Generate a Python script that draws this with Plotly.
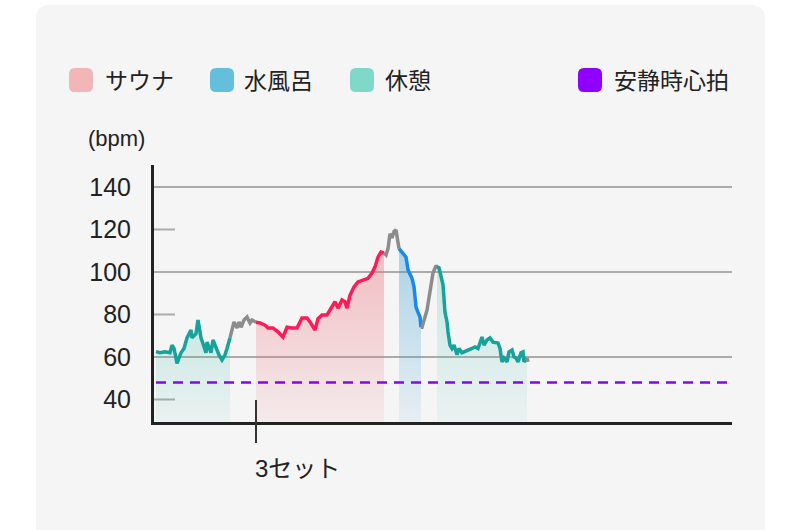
import plotly.graph_objects as go

# ---- data (time index, heart rate in bpm) ----
time = [0, 4, 9, 14, 16, 18, 21, 25, 28, 31, 35, 36, 40, 42, 45, 48, 50, 51, 55, 57, 60, 63, 66, 69, 71, 74,
        76, 78, 81, 83, 85, 88, 91, 94, 96, 100,
        104, 109, 112, 117, 122, 127, 131, 136, 141, 146, 151, 154, 159, 162, 166, 171, 176, 179, 182, 186,
        189, 191, 194, 198, 202, 207, 212, 216, 219, 222, 225, 228,
        230, 232, 234, 236, 238, 240, 242, 243,
        246, 250, 252, 256, 258, 260, 262, 264, 265,
        266, 271, 274, 277, 280, 281,
        283, 286, 287, 289, 291, 292, 294, 296, 298, 301, 303, 306, 309, 312, 316, 319, 322, 326, 328, 331,
        334, 337, 340, 342, 344, 346, 348, 351, 353, 356, 358, 360, 362, 365, 367, 368, 371, 372]
hr = [62.5, 62, 62.5, 62, 65.6, 64, 57, 62, 64, 69, 72.7, 69, 71, 77.4, 69, 64, 62, 67, 62, 68, 64, 61, 58.6, 61, 64, 69,
      73.6, 76.5, 73.6, 76.5, 74, 77.4, 78.8, 76, 77.4, 76.3,
      76, 75, 73.6, 73.6, 71.8, 69.4, 74, 73.6, 73.6, 78.4, 78.4, 76.5, 72.7, 78, 79.8, 79.8, 83.5, 86, 83, 86.8,
      86, 83, 89, 93, 95.3, 96.2, 97, 99.5, 102.4, 107, 109.4, 109,
      108, 111, 118, 116, 119, 119.8, 113.6, 111,
      109, 107, 101, 97, 93, 83.5, 81, 78.8, 74,
      74, 82, 90, 99.5, 103, 102.4,
      102, 96, 94, 81, 76.5, 71.8, 65.6, 64, 65.6, 61, 64, 62, 62.5, 63.3, 64, 64.7, 64, 69.4, 65.6, 68,
      69, 67, 67, 66.6, 64, 57.7, 59.5, 57.7, 62.4, 63.3, 60, 59.5, 57.7, 62, 62.4, 57.7, 59.5, 57.7]

# phases: kind, start, end (time index)
phase_kind = ["rest", "move", "sauna", "move", "water", "move", "rest", "move"]
phase_start = [0, 74, 100, 228, 243, 265, 281, 371]
phase_end = [74, 100, 228, 243, 265, 281, 371, 372]

resting_hr = 48
set_label = "3セット"
set_time = 100

legend_names = ["サウナ", "水風呂", "休憩", "安静時心拍"]
legend_colors = ["#f2b5b8", "#64bfdc", "#80d8c8", "#8f00ff"]

y_ticks = [40, 60, 80, 100, 120, 140]
grid_full = [60, 100, 140]
grid_short = [40, 80, 120]

line_colors = {"rest": "#17a29b", "move": "#8c8c8c", "sauna": "#ff1a58", "water": "#1b88ee"}
fill_rgb = {"rest": (60, 190, 170, 0.24, 0.06), "sauna": (236, 110, 120, 0.42, 0.08),
            "water": (60, 160, 210, 0.4, 0.08)}

FONT = "Liberation Sans, Noto Sans CJK JP, sans-serif"
YMIN, YMAX = 29.4, 150.35
XMIN, XMAX = -2, 576

fig = go.Figure()

for kind, s, e in zip(phase_kind, phase_start, phase_end):
    xs = [t for t in time if s <= t <= e]
    ys = [h for t, h in zip(time, hr) if s <= t <= e]
    kw = {}
    if kind in fill_rgb:
        r, g, b, a1, a0 = fill_rgb[kind]
        kw = dict(fill="tozeroy",
                  fillgradient=dict(type="vertical",
                                    colorscale=[[0, f"rgba({r},{g},{b},{a0})"], [1, f"rgba({r},{g},{b},{a1})"]],
                                    start=YMIN, stop=max(ys)))
    fig.add_trace(go.Scatter(x=xs, y=ys, mode="lines",
                             line=dict(color=line_colors[kind], width=3.5),
                             showlegend=False, hoverinfo="skip", **kw))

fig.add_trace(go.Scatter(x=[0, XMAX], y=[resting_hr, resting_hr], mode="lines",
                         line=dict(color="#8a00ff", width=2.5, dash="10px,7px"),
                         showlegend=False, hoverinfo="skip"))

W, H = 800, 530
ML, MR, MT, MB = 154, 68, 165, 108
PW, PH = W - ML - MR, H - MT - MB


def px(x):
    return (x - ML) / PW


def py(y):
    return (H - MB - y) / PH


def rrect(x0, y0, x1, y1, r):
    X0, X1 = px(x0), px(x1)
    Y0, Y1 = py(y0), py(y1)  # Y0 top
    rx, ry = r / PW, r / PH
    return (f"M{X0+rx},{Y0} L{X1-rx},{Y0} Q{X1},{Y0} {X1},{Y0-ry} L{X1},{Y1+ry} Q{X1},{Y1} {X1-rx},{Y1} "
            f"L{X0+rx},{Y1} Q{X0},{Y1} {X0},{Y1+ry} L{X0},{Y0-ry} Q{X0},{Y0} {X0+rx},{Y0} Z")


shapes = [dict(type="path", xref="paper", yref="paper", path=rrect(36, 5, 765, 560, 14),
               fillcolor="#f5f5f5", line=dict(width=0), layer="below")]
for g in grid_full:
    shapes.append(dict(type="line", xref="paper", yref="y", x0=0, x1=1, y0=g, y1=g,
                       line=dict(color="#ababab", width=2), layer="below"))
for g in grid_short:
    shapes.append(dict(type="line", xref="paper", yref="y", x0=0, x1=px(175), y0=g, y1=g,
                       line=dict(color="#ababab", width=2), layer="below"))
shapes.append(dict(type="line", xref="x", yref="paper", x0=set_time, x1=set_time,
                   y0=py(400), y1=py(443), line=dict(color="#333333", width=2)))

annotations = [
    dict(text="(bpm)", xref="paper", yref="paper", x=px(86), y=py(139), xanchor="left", yanchor="middle",
         showarrow=False, font=dict(size=22, color="#222222", family=FONT)),
    dict(text=set_label, xref="x", yref="paper", x=set_time, y=py(468), xanchor="left", yanchor="middle",
         xshift=-3, showarrow=False, font=dict(size=24, color="#222222", family=FONT)),
]

sq_x = [69, 210, 350, 578]
txt_x = [103, 242, 383, 612]
for name, col, sx, tx in zip(legend_names, legend_colors, sq_x, txt_x):
    shapes.append(dict(type="path", xref="paper", yref="paper", path=rrect(sx, 68, sx + 24, 92, 6),
                       fillcolor=col, line=dict(width=0)))
    annotations.append(dict(text=name, xref="paper", yref="paper", x=px(tx), y=py(81),
                            xanchor="left", yanchor="middle", showarrow=False,
                            font=dict(size=23, color="#222222", family=FONT)))

fig.update_layout(
    width=W, height=H, margin=dict(l=ML, r=MR, t=MT, b=MB),
    paper_bgcolor="white", plot_bgcolor="rgba(0,0,0,0)",
    shapes=shapes, annotations=annotations, showlegend=False,
    xaxis=dict(range=[XMIN, XMAX], showgrid=False, zeroline=False, showticklabels=False, ticks="",
               showline=True, linecolor="#222222", linewidth=3, fixedrange=True),
    yaxis=dict(range=[YMIN, YMAX], tickvals=y_ticks, showgrid=False, zeroline=False,
               ticks="outside", ticklen=15, tickcolor="rgba(0,0,0,0)",
               tickfont=dict(size=25, color="#222222", family=FONT),
               showline=True, linecolor="#222222", linewidth=3, fixedrange=True),
)

fig.write_html("out.html")
